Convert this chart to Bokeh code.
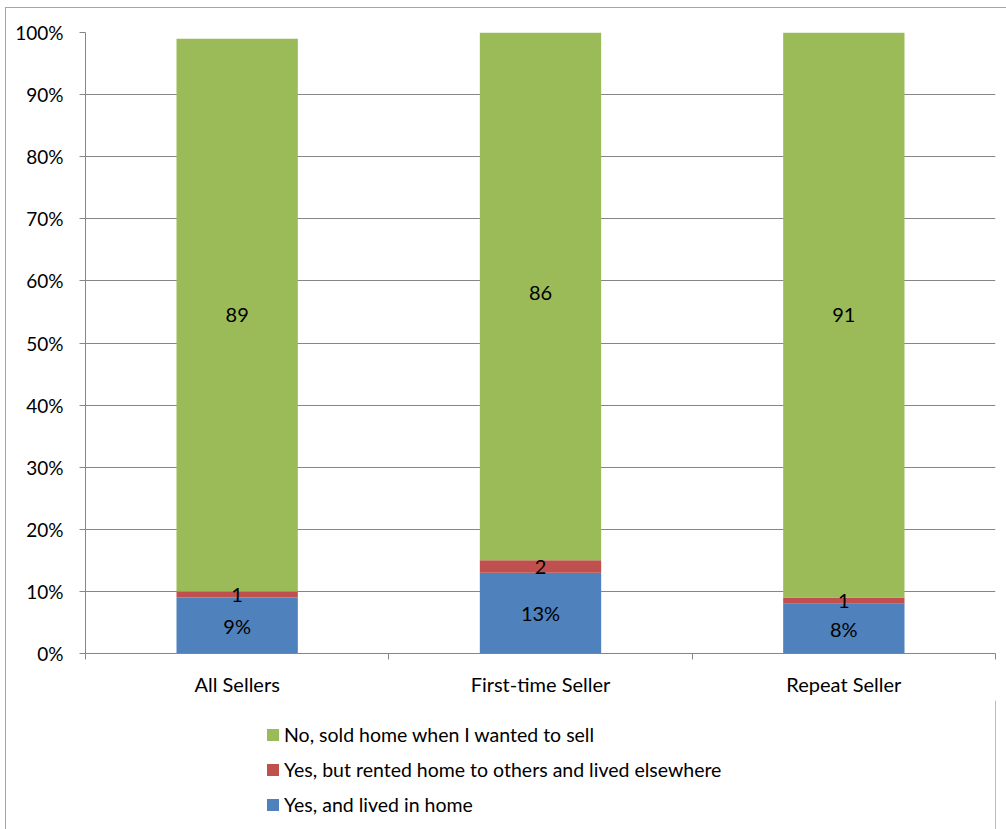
from bokeh.plotting import figure
from bokeh.layouts import column
from bokeh.models import Range1d, FixedTicker, Legend, LegendItem, ColumnDataSource
from bokeh.core.properties import value
from bokeh.embed import file_html
from bokeh.resources import INLINE

categories = ["All Sellers", "First-time Seller", "Repeat Seller"]
lived_in_home = [9, 13, 8]
rented_out = [1, 2, 1]
sold_when_wanted = [89, 86, 91]
series_names = ["Yes, and lived in home",
                "Yes, but rented home to others and lived elsewhere",
                "No, sold home when I wanted to sell"]
colors = ["#4F81BD", "#C0504D", "#9BBB59"]
y_ticks = [0, 10, 20, 30, 40, 50, 60, 70, 80, 90, 100]
y_tick_labels = [f"{t}%" for t in y_ticks]

FONT = "Lato"
FS = "20px"
FS_Y = "19px"
FS_LEG = "19.5px"

xs = [i + 0.5 for i in range(len(categories))]
src = ColumnDataSource(dict(x=xs, blue=lived_in_home, red=rented_out, green=sold_when_wanted))

# ---- main chart ----
p = figure(width=1000, height=692, output_backend="svg", toolbar_location=None,
           x_range=Range1d(0, len(categories)), y_range=Range1d(0, 100))
p.min_border_left = 79
p.min_border_right = 11
p.min_border_top = 24
p.min_border_bottom = 47
p.outline_line_color = None
p.background_fill_color = "white"
p.border_fill_color = "white"

renderers = p.vbar_stack(["blue", "red", "green"], x="x", width=0.4, source=src,
                         color=colors, line_color=None)

# data labels at segment centres
mid_blue = [b / 2 for b in lived_in_home]
mid_red = [b + r / 2 for b, r in zip(lived_in_home, rented_out)]
mid_green = [b + r + g / 2 for b, r, g in zip(lived_in_home, rented_out, sold_when_wanted)]
lab_x = xs * 3
lab_y = mid_blue + mid_red + mid_green
lab_t = ([f"{v}%" for v in lived_in_home] + [str(v) for v in rented_out]
         + [str(v) for v in sold_when_wanted])
p.text(x=lab_x, y=lab_y, text=lab_t, text_align="center", text_baseline="middle",
       text_font=value(FONT), text_font_size=FS, text_color="black")

# axes
ax = p.xaxis[0]
ax.ticker = FixedTicker(ticks=xs, minor_ticks=list(range(len(categories) + 1)))
ax.major_label_overrides = {x: c for x, c in zip(xs, categories)}
ax.major_tick_out = 0
ax.major_tick_in = 0
ax.minor_tick_out = 6
ax.minor_tick_in = 0
ax.minor_tick_line_color = "#868686"
ax.axis_line_color = "#868686"
ax.major_label_text_font = FONT
ax.major_label_text_font_size = FS
ax.major_label_text_color = "black"
ax.major_label_standoff = 12

ay = p.yaxis[0]
ay.ticker = FixedTicker(ticks=y_ticks, minor_ticks=[])
ay.major_label_overrides = {t: l for t, l in zip(y_ticks, y_tick_labels)}
ay.major_tick_out = 6
ay.major_tick_in = 0
ay.major_tick_line_color = "#868686"
ay.axis_line_color = "#868686"
ay.major_label_text_font = FONT
ay.major_label_text_font_size = FS_Y
ay.major_label_text_color = "black"
ay.major_label_standoff = 16

p.xgrid.grid_line_color = None
p.ygrid.grid_line_color = "#868686"
p.ygrid.ticker = FixedTicker(ticks=y_ticks)

# ---- legend panel ----
q = figure(width=1000, height=129, output_backend="svg", toolbar_location=None,
           x_range=Range1d(0, 1), y_range=Range1d(0, 1))
q.min_border = 0
q.axis.visible = False
q.grid.visible = False
q.outline_line_color = None
q.background_fill_color = "white"
q.border_fill_color = "white"
# swatch renderers: their only bar lies outside the visible range
swatches = [q.vbar(x=[5], top=[1], width=0.1, color=c, line_color=None) for c in colors]
items = [LegendItem(label=series_names[i], renderers=[swatches[i]]) for i in [2, 1, 0]]
legend = Legend(items=items, location=(180, 13), orientation="vertical",
                glyph_width=15, glyph_height=15, label_standoff=4,
                label_text_font=FONT, label_text_font_size=FS_LEG, label_text_color="black",
                label_height=24, spacing=11, padding=0, margin=0, border_line_color=None,
                background_fill_alpha=0)
q.add_layout(legend, "center")

layout = column(p, q, spacing=0)
layout.styles = {"margin-left": "5px", "margin-top": "7px",
                 "border-left": "1px solid #a6a6a6", "border-top": "1px solid #a6a6a6"}

open("out.html", "w").write(file_html(layout, INLINE))
